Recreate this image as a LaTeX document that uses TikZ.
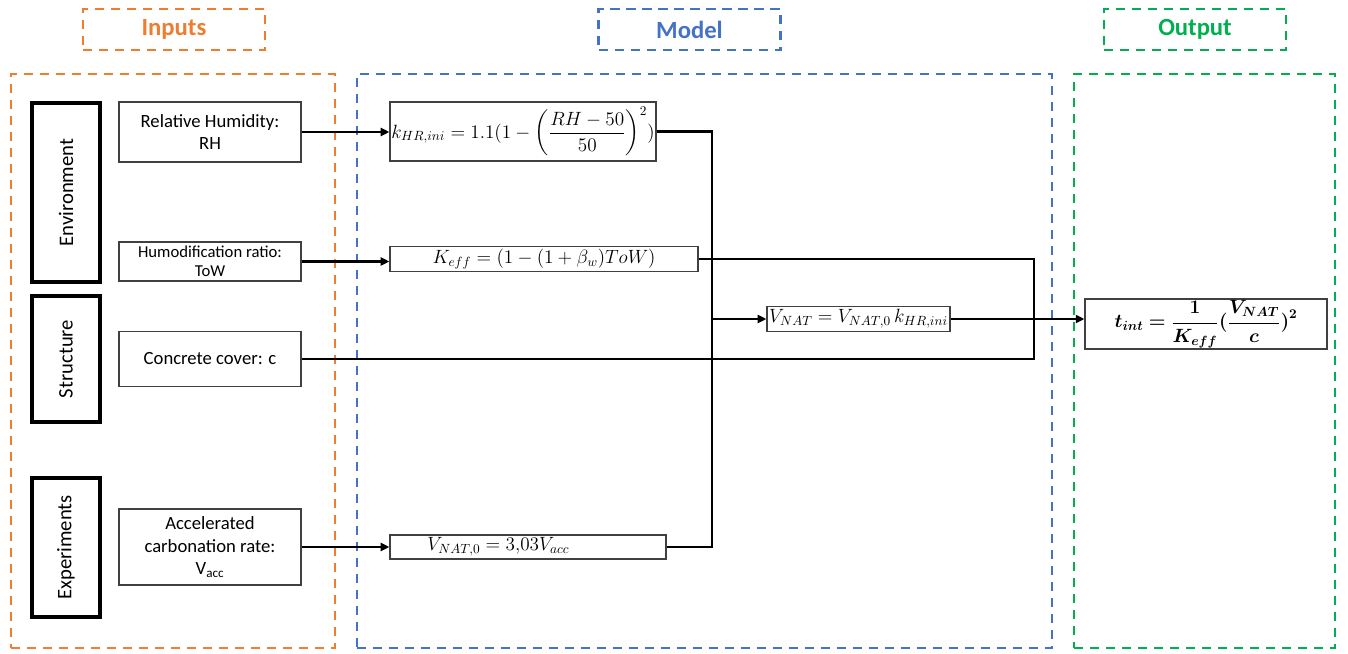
\documentclass[tikz,border=0pt]{standalone}
\usepackage{amsmath}
\usepackage{bm}
\usepackage{fontspec}
\setmainfont{Carlito}
\usetikzlibrary{arrows.meta}
\definecolor{inorange}{RGB}{237,125,49}
\definecolor{modblue}{RGB}{68,114,196}
\definecolor{outgreen}{RGB}{0,176,80}
\newcommand{\tinteq}{$\bm{t_{int} = \dfrac{1}{K_{eff}}(\dfrac{V_{NAT}}{c})^{2}}$}
\begin{document}
\begin{tikzpicture}[x=0.75pt, y=-0.75pt,
	frame/.style = {draw, dashed, line width=1.8pt, dash pattern=on 7pt off 5pt, minimum height=430.5pt, minimum width=#1},
	title/.style = {draw, dashed, line width=1.8pt, dash pattern=on 7pt off 5pt, minimum width=136.5pt, minimum height=30.75pt, font=\fontsize{18.5}{22}\selectfont\bfseries},
	group/.style = {draw, line width=2.4pt, rotate=90, minimum height=51pt, minimum width=#1, font=\fontsize{15.5}{18}\selectfont},
	param/.style = {draw=black!75, line width=0.9pt, minimum width=136.5pt, minimum height=#1, align=center, inner sep=1pt, font=\fontsize{14}{17}\selectfont},
	eqn/.style = {draw=black!75, line width=0.9pt, minimum height=18.75pt, inner sep=1pt, font=\fontsize{14}{16}\selectfont},
	conn/.style = {line width=2pt, line join=miter},
	arr/.style = {conn, -{Triangle[length=6.5pt, width=6pt]}}]

	\useasboundingbox (0,0) rectangle (1348,653);

	% headers
	\node[title, inorange] (inT) at (174,29.5) {Inputs};
	\node[title, modblue] (modT) at (689.5,29.5) {Model};
	\node[title, outgreen] (outT) at (1195,29.5) {Output};

	% frames
	\node[frame=243pt, inorange] (inF) at (173,361) {};
	\node[frame=521.25pt, modblue] (modF) at (704.5,361) {};
	\node[frame=195.75pt, outgreen] (outF) at (1204.5,361) {};

	% groups
	\node[group=134.25pt] (env) at (66,192.5) {Environment};
	\node[group=94.5pt] (struc) at (66,359) {Structure};
	\node[group=104.25pt] (exper) at (66,547.5) {Experiments};

	% inputs
	\node[param=45pt] (rh) at (210,132) {Relative Humidity:\\RH};
	\node[param=29.25pt, font=\fontsize{12.5}{14}\selectfont] (tow) at (210,261.5) {Humodification ratio:\\ToW};
	\node[param=41.25pt] (cover) at (210,359) {Concrete cover: c};
	\node[param=57pt] (acc) at (210,547) {Accelerated\\carbonation rate:\\V\textsubscript{acc}};

	% model
	\node[eqn, minimum width=199.5pt, minimum height=44.25pt] (khr) at (523,131.5) {$k_{HR,ini} = 1.1(1-\displaystyle\left(\frac{RH-50}{50}\right)^{2})$};
	\node[eqn, minimum width=231pt] (keff) at (544,259) {$K_{eff} = (1-(1+\beta_w)ToW)$};
	\node[eqn, minimum width=137.25pt] (vnat) at (858.5,319) {$V_{NAT} = V_{NAT,0}\,k_{HR,ini}$};
	\node[eqn, text width=205pt, align=left, minimum height=18pt] (vnat0) at (528,547) {\hspace*{27pt}$V_{NAT,0} = 3{,}03V_{acc}$};

	% output
	\node[eqn, minimum width=181.5pt, minimum height=37.5pt] (tint) at (1206,324) {\tinteq};

	\coordinate (jL) at (712,319);
	\coordinate (jR) at (1034,319);

	\draw[arr] (rh.east) -- (rh.east -| khr.west);
	\draw[arr] (tow.east) -- (tow.east -| keff.west);
	\draw[arr] (acc.east) -- (acc.east -| vnat0.west);
	\draw[conn] (khr.east) -| (jL |- vnat0.east) -- (vnat0.east);
	\draw[arr] (jL) -- (vnat.west);
	\draw[conn] (keff.east) -| (jR |- cover.east) -- (cover.east);
	\draw[arr] (vnat.east) -- (vnat.east -| tint.west);
\end{tikzpicture}
\end{document}
